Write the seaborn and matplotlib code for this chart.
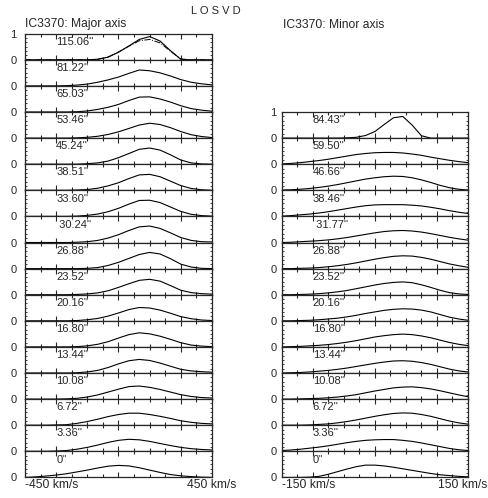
import pandas as pd
import matplotlib
matplotlib.use("Agg")
import matplotlib.pyplot as plt
import matplotlib.transforms as mtransforms
from matplotlib.ticker import FixedLocator, MultipleLocator
import seaborn as sns

sns.set_style("ticks")
plt.rcParams["font.family"] = ["Liberation Sans", "DejaVu Sans"]

# major axis: velocity grid (km/s), radii and LOSVD profiles
v_major = [-450, -400, -350, -300, -250, -200, -150, -100, -50, 0,
           50, 100, 150, 200, 250, 300, 350, 400, 450]
major_radii = ["115.06''", "81.22''", "65.03''", "53.46''", "45.24''", "38.51''",
               "33.60''", " 30.24''", "26.88''", "23.52''", "20.16''", "16.80''",
               "13.44''", "10.08''", "6.72''", "3.36''", "0''"]
major_profiles = [
    [0, 0, 0, 0, 0, 0, 0, 0.02, 0.10, 0.29, 0.53, 0.78, 0.89, 0.72, 0.35, 0.02, 0, 0, 0],
    [0, 0, 0, 0, 0.01, 0.03, 0.07, 0.14, 0.23, 0.34, 0.48, 0.61, 0.58, 0.50, 0.38, 0.24, 0.14, 0.08, 0.04],
    [0, 0, 0, 0, 0, 0.01, 0.04, 0.10, 0.18, 0.29, 0.44, 0.57, 0.58, 0.50, 0.38, 0.24, 0.13, 0.07, 0.03],
    [0, 0, 0, 0, 0, 0.01, 0.03, 0.07, 0.14, 0.24, 0.37, 0.50, 0.57, 0.52, 0.40, 0.25, 0.13, 0.06, 0.02],
    [0, 0, 0, 0, 0, 0, 0.02, 0.05, 0.12, 0.25, 0.41, 0.57, 0.62, 0.54, 0.36, 0.16, 0.05, 0.01, 0],
    [0, 0, 0, 0, 0, 0.01, 0.03, 0.08, 0.17, 0.29, 0.45, 0.59, 0.61, 0.52, 0.35, 0.18, 0.07, 0.02, 0],
    [0, 0, 0, 0, 0, 0.01, 0.04, 0.09, 0.18, 0.31, 0.47, 0.61, 0.62, 0.53, 0.36, 0.19, 0.08, 0.03, 0.01],
    [0, 0, 0, 0, 0, 0.01, 0.03, 0.08, 0.17, 0.30, 0.46, 0.60, 0.63, 0.54, 0.37, 0.19, 0.08, 0.03, 0.02],
    [0, 0, 0, 0, 0, 0, 0.01, 0.04, 0.12, 0.24, 0.39, 0.54, 0.62, 0.56, 0.38, 0.17, 0.06, 0.01, 0],
    [0, 0, 0, 0, 0, 0.01, 0.03, 0.07, 0.15, 0.28, 0.42, 0.55, 0.59, 0.52, 0.35, 0.17, 0.08, 0.04, 0.02],
    [0, 0, 0, 0, 0, 0.01, 0.04, 0.09, 0.18, 0.30, 0.43, 0.51, 0.49, 0.41, 0.29, 0.16, 0.08, 0.03, 0.01],
    [0, 0, 0, 0, 0, 0.01, 0.04, 0.10, 0.20, 0.34, 0.47, 0.54, 0.50, 0.41, 0.29, 0.16, 0.07, 0.03, 0.01],
    [0, 0, 0, 0, 0, 0.01, 0.04, 0.10, 0.21, 0.35, 0.47, 0.52, 0.48, 0.38, 0.26, 0.14, 0.08, 0.05, 0.03],
    [0, 0, 0, 0, 0.01, 0.03, 0.08, 0.16, 0.27, 0.38, 0.48, 0.50, 0.45, 0.37, 0.27, 0.17, 0.10, 0.06, 0.04],
    [0, 0, 0, 0.01, 0.02, 0.07, 0.14, 0.23, 0.33, 0.41, 0.46, 0.46, 0.41, 0.34, 0.26, 0.17, 0.11, 0.07, 0.05],
    [0, 0, 0, 0.01, 0.03, 0.08, 0.15, 0.24, 0.34, 0.42, 0.46, 0.44, 0.38, 0.30, 0.22, 0.15, 0.10, 0.07, 0.05],
    [0, 0.02, 0.05, 0.09, 0.14, 0.21, 0.28, 0.36, 0.43, 0.46, 0.44, 0.37, 0.28, 0.19, 0.11, 0.06, 0.03, 0.01, 0],
]
# second (dash-dot) profile in the outermost major-axis panel
major_outer_alt = [0, 0, 0, 0, 0, 0, 0, 0.02, 0.11, 0.30, 0.52, 0.73, 0.78, 0.65, 0.33, 0.03, 0, 0, 0]

# minor axis
v_minor = [-150, -135, -120, -105, -90, -75, -60, -45, -30, -15, 0,
           15, 30, 45, 60, 75, 90, 105, 120, 135, 150]
minor_radii = ["84.43''", "59.50''", "46.66''", "38.46''", " 31.77''", "26.88''",
               "23.52''", "20.16''", "16.80''", "13.44''", "10.08''", "6.72''",
               "3.36''", "0''"]
minor_profiles = [
    [0, 0, 0, 0, 0, 0, 0, 0.01, 0.03, 0.10, 0.25, 0.52, 0.78, 0.83, 0.50, 0.09, 0, 0, 0, 0, 0],
    [0.01, 0.03, 0.06, 0.10, 0.14, 0.19, 0.25, 0.31, 0.37, 0.41, 0.44, 0.45, 0.45, 0.43, 0.39, 0.34, 0.27, 0.21, 0.15, 0.10, 0.06],
    [0.01, 0.02, 0.04, 0.07, 0.11, 0.16, 0.22, 0.29, 0.36, 0.43, 0.48, 0.52, 0.54, 0.53, 0.48, 0.40, 0.30, 0.19, 0.10, 0.04, 0.01],
    [0.01, 0.03, 0.06, 0.09, 0.13, 0.18, 0.24, 0.30, 0.36, 0.41, 0.44, 0.45, 0.45, 0.45, 0.43, 0.40, 0.35, 0.29, 0.22, 0.16, 0.11],
    [0, 0.01, 0.03, 0.05, 0.07, 0.10, 0.14, 0.19, 0.25, 0.31, 0.37, 0.42, 0.45, 0.46, 0.44, 0.40, 0.34, 0.27, 0.20, 0.14, 0.09],
    [0, 0, 0.01, 0.02, 0.04, 0.07, 0.11, 0.16, 0.22, 0.29, 0.36, 0.42, 0.47, 0.49, 0.48, 0.43, 0.36, 0.27, 0.18, 0.11, 0.05],
    [0, 0, 0.01, 0.02, 0.04, 0.07, 0.11, 0.16, 0.23, 0.30, 0.37, 0.43, 0.47, 0.49, 0.46, 0.38, 0.28, 0.17, 0.08, 0.03, 0.01],
    [0, 0, 0.01, 0.02, 0.04, 0.07, 0.10, 0.15, 0.21, 0.28, 0.34, 0.40, 0.44, 0.46, 0.45, 0.41, 0.34, 0.24, 0.14, 0.07, 0.02],
    [0, 0.01, 0.02, 0.04, 0.06, 0.09, 0.13, 0.18, 0.24, 0.31, 0.38, 0.43, 0.47, 0.49, 0.47, 0.42, 0.35, 0.26, 0.17, 0.10, 0.05],
    [0, 0.01, 0.02, 0.04, 0.07, 0.10, 0.14, 0.19, 0.25, 0.31, 0.37, 0.42, 0.46, 0.47, 0.45, 0.40, 0.33, 0.24, 0.15, 0.08, 0.04],
    [0, 0, 0.01, 0.02, 0.03, 0.05, 0.08, 0.12, 0.17, 0.24, 0.31, 0.37, 0.43, 0.46, 0.47, 0.44, 0.39, 0.32, 0.24, 0.16, 0.09],
    [0, 0, 0, 0.01, 0.03, 0.05, 0.09, 0.14, 0.20, 0.27, 0.34, 0.40, 0.45, 0.47, 0.46, 0.41, 0.34, 0.25, 0.16, 0.09, 0.04],
    [0.03, 0.05, 0.08, 0.12, 0.16, 0.21, 0.27, 0.33, 0.38, 0.42, 0.44, 0.45, 0.45, 0.42, 0.38, 0.32, 0.25, 0.18, 0.11, 0.06, 0.03],
    [0, 0, 0, 0.01, 0.04, 0.12, 0.22, 0.32, 0.41, 0.47, 0.47, 0.44, 0.39, 0.33, 0.27, 0.21, 0.15, 0.10, 0.07, 0.04, 0.02],
]

W, H = 489, 498
fig = plt.figure(figsize=(W / 100, H / 100), dpi=100)

TOP = 33.7     # px, top of first panel
PH = 26.1      # px, height of one panel
FS_SMALL = 8.0
FS_BIG = 8.7


def make_panel(x0, x1, row, xlim, majors, minor_step, ypad):
    top = TOP + row * PH
    ax = fig.add_axes([x0 / W, 1 - (top + PH) / H, (x1 - x0) / W, PH / H])
    ax.set_xlim(*xlim)
    ax.set_ylim(0, 1)
    ax.xaxis.set_major_locator(FixedLocator(majors))
    ax.xaxis.set_minor_locator(MultipleLocator(minor_step))
    ax.yaxis.set_minor_locator(MultipleLocator(1 / 6))
    ax.tick_params(axis="x", which="both", direction="in", top=True, bottom=True,
                   labelbottom=False, width=0.8)
    ax.tick_params(axis="x", which="major", length=3.8)
    ax.tick_params(axis="x", which="minor", length=2.0)
    ax.tick_params(axis="y", which="both", direction="in", left=True, right=True,
                   length=1.6, width=0.6, labelsize=FS_SMALL, pad=ypad)
    for sp in ax.spines.values():
        sp.set_linewidth(0.9)
    return ax


def draw_column(x0, x1, row0, vgrid, radii, profiles, xlim, majors, minor_step,
                label_v, ypad, end_labels, right_label_at):
    n = len(radii)
    for i, (r, prof) in enumerate(zip(radii, profiles)):
        ax = make_panel(x0, x1, row0 + i, xlim, majors, minor_step, ypad)
        df = pd.DataFrame({"v": vgrid, "f": prof})
        sns.lineplot(data=df, x="v", y="f", ax=ax, color="black", linewidth=0.8,
                     estimator=None, sort=False, legend=False)
        if i == 0 and vgrid is v_major:
            alt = pd.DataFrame({"v": vgrid, "f": major_outer_alt})
            sns.lineplot(data=alt, x="v", y="f", ax=ax, color="black", linewidth=0.7,
                         linestyle="-.", estimator=None, sort=False, legend=False)
        ax.set_xlabel("")
        ax.set_ylabel("")
        if i == 0:
            ax.set_yticks([0, 1], ["0", "1"])
        else:
            ax.set_yticks([0], ["0"])
        trans = mtransforms.blended_transform_factory(ax.transData, ax.transAxes)
        ax.text(label_v, 0.57, r, transform=trans, fontsize=FS_SMALL, va="baseline", ha="left")
        if i == n - 1:
            ax.text(xlim[0], -0.41, end_labels[0], transform=trans, fontsize=FS_BIG,
                    va="baseline", ha="left")
            ax.text(right_label_at[0], -0.41, end_labels[1], transform=trans,
                    fontsize=FS_BIG, va="baseline", ha=right_label_at[1], clip_on=False)


draw_column(25, 212, 0, v_major, major_radii, major_profiles, (-450, 450),
            [-300, 0, 300], 75, -300, 6.0, ("-450 km/s", "450 km/s"), (450, "center"))
draw_column(281.7, 468, 3, v_minor, minor_radii, minor_profiles, (-150, 150),
            [-100, 0, 100], 25, -100, 3.6, ("-150 km/s", "150 km/s"), (181, "right"))

fig.text(216 / W, 1 - 14 / H, "L O S V D", ha="center", va="baseline", fontsize=FS_SMALL)
fig.text(25 / W, 1 - 27.5 / H, "IC3370: Major axis", ha="left", va="baseline", fontsize=FS_BIG)
fig.text(283 / W, 1 - 27.5 / H, "IC3370: Minor axis", ha="left", va="baseline", fontsize=FS_BIG)

fig.savefig("out.png", dpi=100)
